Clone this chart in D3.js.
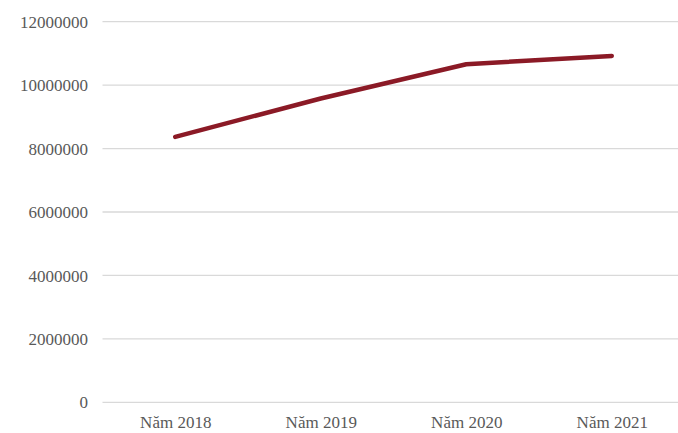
<!DOCTYPE html>
<html>
<head>
<meta charset="utf-8">
<script src="https://cdn.jsdelivr.net/npm/d3@7"></script>
<style>
  html, body { margin: 0; padding: 0; background: #ffffff; }
  svg { display: block; }
  text { font-family: "Liberation Serif", "Times New Roman", serif; fill: #595959; }
</style>
</head>
<body>
<svg id="chart" width="678" height="433"></svg>
<script>
// Yearly values
const categories = ["Năm 2018", "Năm 2019", "Năm 2020", "Năm 2021"];
const values = [8370000, 9580000, 10660000, 10920000];
const yTicks = [0, 2000000, 4000000, 6000000, 8000000, 10000000, 12000000];

const svg = d3.select("#chart");
const plot = { left: 102.5, right: 684.5, top: 21.7, bottom: 402.3 };

const x = d3.scalePoint()
  .domain(categories)
  .range([plot.left, plot.right])
  .padding(0.5);

const y = d3.scaleLinear()
  .domain([0, 12000000])
  .range([plot.bottom, plot.top]);

// Horizontal gridlines
svg.append("g")
  .selectAll("line")
  .data(yTicks)
  .join("line")
  .attr("x1", plot.left)
  .attr("x2", plot.right)
  .attr("y1", d => y(d))
  .attr("y2", d => y(d))
  .attr("stroke", "#d9d9d9")
  .attr("stroke-width", 1.3);

// Y axis labels
const yAxis = d3.axisLeft(y).tickValues(yTicks).tickFormat(d3.format("d")).tickSize(0).tickPadding(0);
svg.append("g")
  .attr("transform", `translate(88,0)`)
  .call(yAxis)
  .call(g => g.select(".domain").remove())
  .call(g => g.selectAll("text")
    .attr("font-family", '"Liberation Serif", "Times New Roman", serif')
    .attr("font-size", 17)
    .attr("fill", "#595959")
    .attr("dy", "0.33em"));

// X axis labels
const xAxis = d3.axisBottom(x).tickSize(0).tickPadding(0);
svg.append("g")
  .attr("transform", `translate(0,${plot.bottom})`)
  .call(xAxis)
  .call(g => g.select(".domain").remove())
  .call(g => g.selectAll("text")
    .attr("font-family", '"Liberation Serif", "Times New Roman", serif')
    .attr("font-size", 17)
    .attr("fill", "#595959")
    .attr("dy", null)
    .attr("y", 25.5));

// Series line
const line = d3.line()
  .x((d, i) => x(categories[i]))
  .y(d => y(d));

svg.append("path")
  .datum(values)
  .attr("d", line)
  .attr("fill", "none")
  .attr("stroke", "#8b1a26")
  .attr("stroke-width", 4.5)
  .attr("stroke-linecap", "round")
  .attr("stroke-linejoin", "round");
</script>
</body>
</html>
